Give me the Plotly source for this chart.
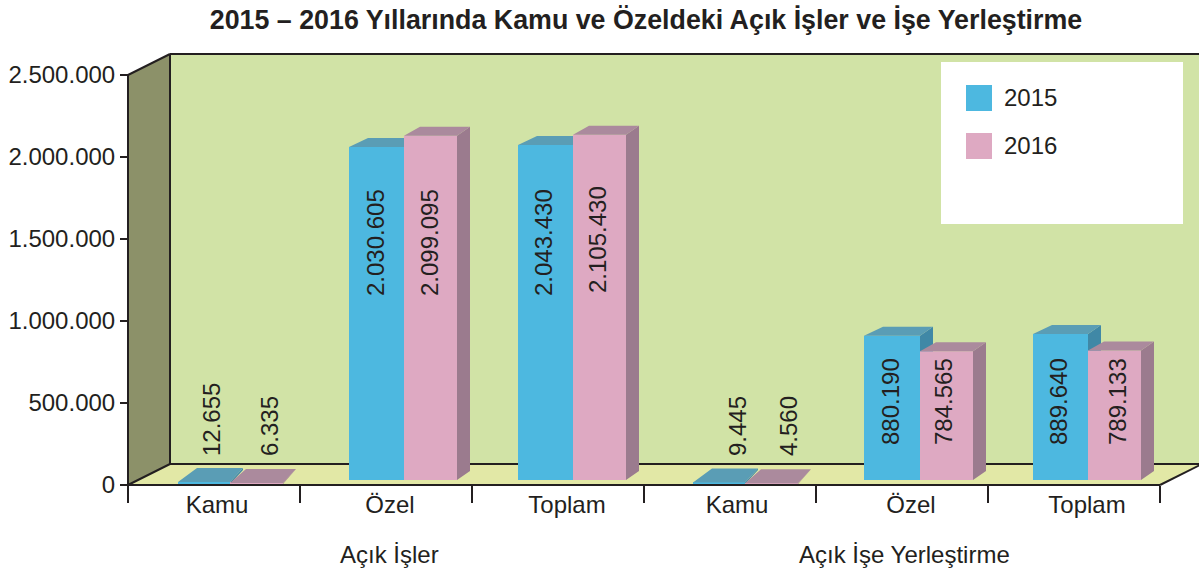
import plotly.graph_objects as go

# ---------- data ----------
categories = ["Kamu", "Özel", "Toplam", "Kamu", "Özel", "Toplam"]
groups = ["Açık İşler", "Açık İşe Yerleştirme"]
series_names = ["2015", "2016"]
values_2015 = [12655, 2030605, 2043430, 9445, 880190, 889640]
values_2016 = [6335, 2099095, 2105430, 4560, 784565, 789133]
y_ticks = [0, 500000, 1000000, 1500000, 2000000, 2500000]
title = "2015 – 2016 Yıllarında Kamu ve Özeldeki Açık İşler ve İşe Yerleştirme"

# ---------- layout constants (pixels of the 1199x570 page) ----------
W, H = 1199, 570
X0, XSTEP = 128, 172      # front axis start and category width
Y0, YTOP = 485, 75        # value 0 and value 2.5M
UNIT = 2500000 / (Y0 - YTOP)
WALL_DX, WALL_DY = 42, 21
FONT = "Liberation Sans"
INK = "#231f20"
BLUE, BLUE_TOP, BLUE_SIDE = "#4db8e0", "#5a9db5", "#4088a6"
PINK, PINK_TOP, PINK_SIDE = "#dea9c2", "#ab8a9d", "#9b7b8e"

SPLIT_PX = [230, 404, 573, 745, 920, 1088]
BASE_PX = [484, 480, 480, 484, 480, 480]
DEPTH_DY = [14, 9, 9, 14, 9, 9]
BLUE_W = [52, 55, 55, 52, 56, 55]
PINK_W = [53, 53, 53, 53, 53, 53]

LABEL_X_2015 = [211, 375, 543, 737, 890, 1058]
LABEL_Y_2015 = [420, 243, 243, 426, 402, 402]
LABEL_X_2016 = [269, 429, 597, 788, 943, 1117]
LABEL_Y_2016 = [426, 243, 240, 426, 402, 402]
CAT_LABEL_PX = [217, 390, 567, 737, 911, 1087]
GROUP_LABEL_PX = [389, 904]
LEGEND_ROW_PX = [98, 146]


def X(px):
    return (px - X0) / XSTEP


def Y(py):
    return (Y0 - py) * UNIT


def dots(v):
    return f"{v:,}".replace(",", ".")


def poly_path(points):
    return "M " + " L ".join(f"{X(a)},{Y(b)}" for a, b in points) + " Z"


def faces(values, lefts, rights, dx_left, dx_right):
    """Top and side faces of the pseudo-3D bars, derived from the values."""
    top_x, top_y, side_x, side_y = [], [], [], []
    for v, l, r, base, dy in zip(values, lefts, rights, BASE_PX, DEPTH_DY):
        h = base - v / UNIT
        top = [(l, h), (l + dx_left, h - dy), (r + dx_right, h - dy), (r, h), (l, h)]
        top_x += [X(p[0]) for p in top] + [None]
        top_y += [Y(p[1]) for p in top] + [None]
        side = [(r, h), (r + dx_right, h - dy), (r + dx_right, base - dy), (r, base), (r, h)]
        side_x += [X(p[0]) for p in side] + [None]
        side_y += [Y(p[1]) for p in side] + [None]
    return top_x, top_y, side_x, side_y


blue_left = [s - w for s, w in zip(SPLIT_PX, BLUE_W)]
pink_right = [s + w for s, w in zip(SPLIT_PX, PINK_W)]

fig = go.Figure()


def poly_trace(xs, ys, color, xa, ya):
    return go.Scatter(x=xs, y=ys, mode="lines", fill="toself", fillcolor=color,
                      line=dict(width=0, color=color), hoverinfo="skip",
                      showlegend=False, xaxis=xa, yaxis=ya)


# 2015 on the base subplot
fig.add_trace(go.Bar(x=[X(s) for s in SPLIT_PX], y=values_2015,
                     base=[Y(b) for b in BASE_PX],
                     width=[w / XSTEP for w in BLUE_W], offset=[-w / XSTEP for w in BLUE_W],
                     marker=dict(color=BLUE, line=dict(width=0)), name=series_names[0],
                     showlegend=False, xaxis="x", yaxis="y"))
tx, ty, sx, sy = faces(values_2015, blue_left, SPLIT_PX, 19, 13)
fig.add_trace(poly_trace(sx, sy, BLUE_SIDE, "x", "y"))
fig.add_trace(poly_trace(tx, ty, BLUE_TOP, "x", "y"))

# 2016 on an overlaid subplot so its front covers the 2015 side faces
fig.add_trace(go.Bar(x=[X(s) for s in SPLIT_PX], y=values_2016,
                     base=[Y(b) for b in BASE_PX],
                     width=[w / XSTEP for w in PINK_W], offset=0,
                     marker=dict(color=PINK, line=dict(width=0)), name=series_names[1],
                     showlegend=False, xaxis="x2", yaxis="y2"))
tx, ty, sx, sy = faces(values_2016, SPLIT_PX, pink_right, 16, 13)
fig.add_trace(poly_trace(sx, sy, PINK_SIDE, "x2", "y2"))
fig.add_trace(poly_trace(tx, ty, PINK_TOP, "x2", "y2"))

back_right = X0 + 6 * XSTEP + WALL_DX
shapes = [
    dict(type="path", layer="below", xref="x", yref="y", line=dict(width=0), fillcolor="#d1e3a6",
         path=poly_path([(X0 + WALL_DX, YTOP - WALL_DY), (back_right, YTOP - WALL_DY),
                         (back_right, Y0 - WALL_DY), (X0 + WALL_DX, Y0 - WALL_DY)])),
    dict(type="path", layer="below", xref="x", yref="y", line=dict(width=0), fillcolor="#8c9169",
         path=poly_path([(X0, YTOP), (X0 + WALL_DX, YTOP - WALL_DY),
                         (X0 + WALL_DX, Y0 - WALL_DY), (X0, Y0)])),
    dict(type="path", layer="below", xref="x", yref="y", line=dict(width=0), fillcolor="#e2e8a6",
         path=poly_path([(X0, Y0), (X0 + WALL_DX, Y0 - WALL_DY), (back_right, Y0 - WALL_DY),
                         (X0 + 6 * XSTEP, Y0)])),
]
for a, b in [((X0, YTOP), (X0, Y0)), ((X0, YTOP), (X0 + WALL_DX, YTOP - WALL_DY)),
             ((X0 + WALL_DX, YTOP - WALL_DY), (back_right, YTOP - WALL_DY)),
             ((X0 + WALL_DX, YTOP - WALL_DY), (X0 + WALL_DX, Y0 - WALL_DY)),
             ((X0 + WALL_DX, Y0 - WALL_DY), (back_right, Y0 - WALL_DY)),
             ((X0, Y0), (X0 + WALL_DX, Y0 - WALL_DY)),
             ((X0, Y0), (X0 + 6 * XSTEP, Y0)),
             ((X0 + 6 * XSTEP, Y0), (back_right, Y0 - WALL_DY))]:
    shapes.append(dict(type="line", layer="below", xref="x", yref="y",
                       x0=X(a[0]), y0=Y(a[1]), x1=X(b[0]), y1=Y(b[1]),
                       line=dict(color=INK, width=2)))
# legend box and swatches
shapes.append(dict(type="rect", layer="above", xref="x", yref="y",
                   x0=X(941), x1=X(1183), y0=Y(62), y1=Y(224),
                   fillcolor="#ffffff", line=dict(width=0)))
for row, color in zip(LEGEND_ROW_PX, [BLUE, PINK]):
    shapes.append(dict(type="rect", layer="above", xref="x", yref="y",
                       x0=X(966), x1=X(992), y0=Y(row - 13), y1=Y(row + 13),
                       fillcolor=color, line=dict(width=0)))

annotations = []
for vals, xs, ys in [(values_2015, LABEL_X_2015, LABEL_Y_2015),
                     (values_2016, LABEL_X_2016, LABEL_Y_2016)]:
    for v, a, b in zip(vals, xs, ys):
        annotations.append(dict(text=dots(v), x=X(a), y=Y(b), xref="x", yref="y", showarrow=False,
                                textangle=-90, xanchor="center", yanchor="middle",
                                font=dict(family=FONT, size=24, color=INK)))
for g, a in zip(groups, GROUP_LABEL_PX):
    annotations.append(dict(text=g, x=X(a), y=Y(554), xref="x", yref="y", showarrow=False,
                            xanchor="center", yanchor="middle",
                            font=dict(family=FONT, size=24, color=INK)))
for name, row in zip(series_names, LEGEND_ROW_PX):
    annotations.append(dict(text=name, x=X(1004), y=Y(row - 1), xref="x", yref="y", showarrow=False,
                            xanchor="left", yanchor="middle", xshift=-2,
                            font=dict(family=FONT, size=24, color=INK)))

x_range = [X(0), X(W)]
y_range = [Y(H), Y(0)]
fig.update_layout(
    width=W, height=H, autosize=False, showlegend=False,
    margin=dict(l=0, r=0, t=0, b=0), paper_bgcolor="#ffffff", plot_bgcolor="rgba(0,0,0,0)",
    barmode="overlay", hovermode=False,
    title=dict(text=title, x=646 / W, y=1 - 20 / H, xanchor="center", yanchor="middle",
               font=dict(family=FONT, size=26.8, color=INK, weight="bold")),
    shapes=shapes, annotations=annotations,
    xaxis=dict(range=x_range, domain=[0, 1], anchor="free", position=(H - Y0) / H, showgrid=False,
               zeroline=False, showline=False,
               tickmode="array", tickvals=[X(p) for p in CAT_LABEL_PX], ticktext=categories,
               ticks="outside", ticklen=5, tickwidth=0, tickcolor="rgba(0,0,0,0)",
               ticklabelstandoff=-7,
               tickfont=dict(family=FONT, size=24, color=INK),
               minor=dict(tickmode="array", tickvals=list(range(7)), ticks="outside", ticklen=17,
                          tickwidth=2, tickcolor=INK, showgrid=False)),
    yaxis=dict(range=y_range, domain=[0, 1], anchor="free", position=X0 / W, showgrid=False,
               zeroline=False, showline=False,
               tickmode="array", tickvals=y_ticks, ticktext=[dots(v) for v in y_ticks],
               ticks="outside", ticklen=8, tickwidth=2, tickcolor=INK,
               tickfont=dict(family=FONT, size=24, color=INK)),
    xaxis2=dict(range=x_range, overlaying="x", anchor="y2", visible=False, domain=[0, 1]),
    yaxis2=dict(range=y_range, overlaying="y", anchor="x2", visible=False, domain=[0, 1]),
)

fig.write_html("out.html", config=dict(displayModeBar=False),
               post_script="document.body.style.margin='0';document.documentElement.style.overflow='hidden';")
